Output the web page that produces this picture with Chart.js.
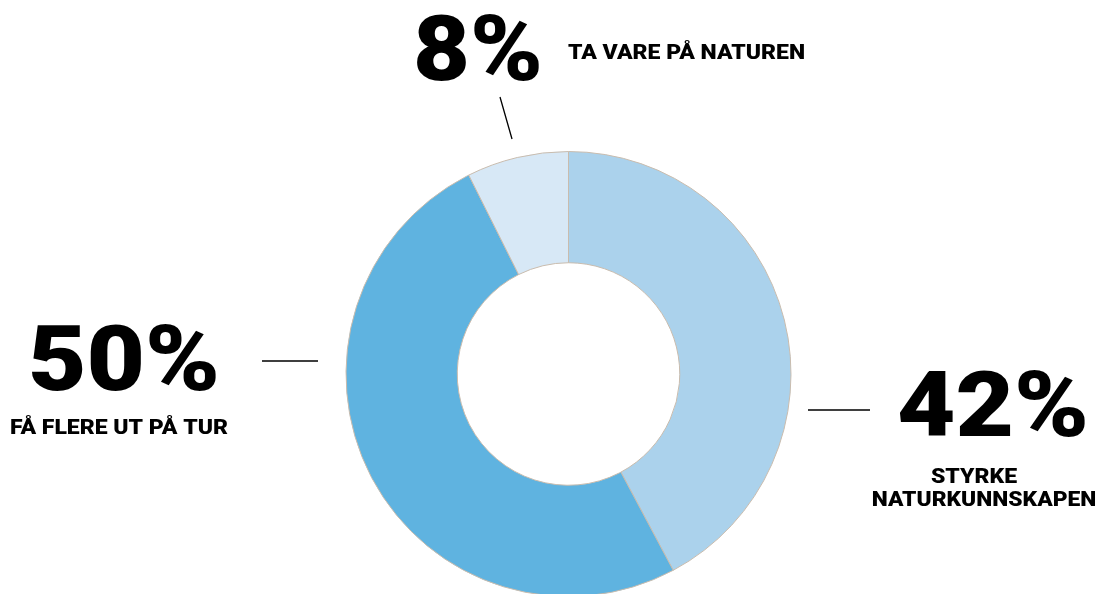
<!DOCTYPE html>
<html lang="no">
<head>
<meta charset="utf-8">
<script src="https://cdn.jsdelivr.net/npm/chart.js@4"></script>
<style>
  html, body { margin: 0; padding: 0; background: #fff; overflow: hidden; }
  #wrap { position: relative; width: 1099px; height: 620px; }
</style>
</head>
<body>
<div id="wrap"><canvas id="chart"></canvas></div>
<script>
// Data (andeler lest av bildet; etikettene viser avrundede tall)
const kategorier = ['Styrke naturkunnskapen', 'Få flere ut på tur', 'Ta vare på naturen'];
const andeler = [42.2, 50.4, 7.4];
const farger = ['#abd2ec', '#5fb3e0', '#d7e8f6'];

// Etiketter (tall + tekst)
const tallTekster = ['42%', '50%', '8%'];
const etikettLinjer = [['STYRKE', 'NATURKUNNSKAPEN'], ['FÅ FLERE UT PÅ TUR'], ['TA VARE PÅ NATUREN']];

const bigFont = '900 91px Roboto, "Liberation Sans", sans-serif';
const smallFont = '900 20px Roboto, "Liberation Sans", sans-serif';

// tegner tekst strukket horisontalt
function tekst(ctx, str, x, y, font, sx, align) {
    ctx.save();
    ctx.font = font;
    const w = ctx.measureText(str).width * sx;
    let x0 = x;
    if (align === 'center') x0 = x - w / 2;
    else if (align === 'right') x0 = x - w;
    ctx.translate(x0, y);
    ctx.scale(sx, 1);
    ctx.textAlign = 'left';
    ctx.fillText(str, 0, 0);
    ctx.restore();
}

// Plugin som tegner tall, tekst og streker
const etiketter = {
    id: 'etiketter',
    afterDraw(chart) {
        const ctx = chart.ctx;
        ctx.save();
        ctx.fillStyle = '#000';
        ctx.strokeStyle = '#000';
        ctx.lineWidth = 1.3;

        // streker
        ctx.beginPath();
        ctx.moveTo(808, 410); ctx.lineTo(870, 410);
        ctx.moveTo(262, 361); ctx.lineTo(318, 361);
        ctx.moveTo(500, 97); ctx.lineTo(512, 139);
        ctx.stroke();

        ctx.textBaseline = 'alphabetic';

        // 42%
        tekst(ctx, tallTekster[0], 897, 436, bigFont, 1.11, 'left');
        tekst(ctx, etikettLinjer[0][0], 974, 483, smallFont, 1.15, 'center');
        tekst(ctx, etikettLinjer[0][1], 984, 506, smallFont, 1.14, 'center');

        // 50%
        tekst(ctx, tallTekster[1], 28, 390, bigFont, 1.11, 'left');
        tekst(ctx, etikettLinjer[1][0], 10, 434, smallFont, 1.15, 'left');

        // 8%
        tekst(ctx, tallTekster[2], 413, 80, bigFont, 1.08, 'left');
        tekst(ctx, etikettLinjer[2][0], 568, 59, smallFont, 1.15, 'left');

        ctx.restore();
    }
};

const ctx = document.getElementById('chart');
new Chart(ctx, {
    type: 'doughnut',
    data: {
        labels: kategorier,
        datasets: [{
            data: andeler,
            backgroundColor: farger,
            borderColor: '#c9bcae',
            borderWidth: 1
        }]
    },
    options: {
        responsive: true,
        maintainAspectRatio: false,
        animation: false,
        cutout: '50%',
        layout: {
            padding: { left: 345, right: 307, top: 151, bottom: 23 }
        },
        plugins: {
            legend: { display: false },
            tooltip: { enabled: false }
        }
    },
    plugins: [etiketter]
});
</script>
</body>
</html>
